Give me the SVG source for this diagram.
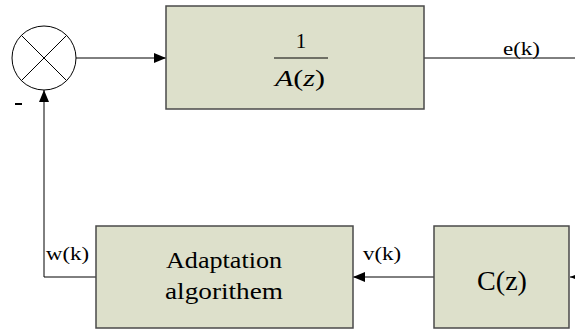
<svg xmlns="http://www.w3.org/2000/svg" width="575" height="330" viewBox="0 0 575 330">
  <defs>
    <style>
      .block { fill: #dde0cb; stroke: #4a4a4a; stroke-width: 1.5; }
      .wire { fill: none; stroke: #000; stroke-width: 1; }
      text { font-family: "Liberation Serif", "DejaVu Serif", "Times New Roman", Times, serif; fill: #000; }
    </style>
    <marker id="arrow" viewBox="0 0 12 10" refX="12" refY="5" markerWidth="12" markerHeight="10" markerUnits="userSpaceOnUse" orient="auto">
      <path d="M0,0 L12,5 L0,10 Z" fill="#000"/>
    </marker>
  </defs>
  <rect width="575" height="330" fill="#fff"/>

  <!-- connectors -->
  <g id="connectors">
    <path class="wire" d="M76,58 H166" marker-end="url(#arrow)"/>
    <path class="wire" d="M424,58 H575"/>
    <path class="wire" d="M96,277 H44 V90" marker-end="url(#arrow)"/>
    <path class="wire" d="M434,277 H353" marker-end="url(#arrow)"/>
    <path class="wire" d="M583,277 H570" marker-end="url(#arrow)"/>
    <text x="503" y="55" font-size="19" textLength="37" lengthAdjust="spacingAndGlyphs">e(k)</text>
    <text x="46" y="260" font-size="19" textLength="43" lengthAdjust="spacingAndGlyphs">w(k)</text>
    <text x="363" y="260" font-size="19" textLength="38" lengthAdjust="spacingAndGlyphs">v(k)</text>
  </g>

  <!-- summing junction -->
  <g id="sum">
    <circle cx="44" cy="58" r="32" fill="#fff" stroke="#000" stroke-width="1"/>
    <path class="wire" d="M21.4,35.4 L66.6,80.6 M66.6,35.4 L21.4,80.6"/>
    <rect x="15" y="103" width="7" height="2" fill="#000"/>
  </g>

  <!-- plant 1/A(z) -->
  <g id="plant">
    <rect class="block" x="166" y="6" width="258" height="103"/>
    <text x="301" y="48" font-size="21" text-anchor="middle">1</text>
    <line x1="274" y1="58" x2="328" y2="58" stroke="#000" stroke-width="1"/>
    <text x="275" y="86" font-size="24" textLength="50" lengthAdjust="spacingAndGlyphs"><tspan font-style="italic">A</tspan>(<tspan font-style="italic">z</tspan>)</text>
  </g>

  <!-- adaptation block -->
  <g id="adaptation">
    <rect class="block" x="96" y="226" width="257" height="102"/>
    <text x="166" y="268" font-size="24" textLength="116" lengthAdjust="spacingAndGlyphs">Adaptation</text>
    <text x="165" y="299" font-size="24" textLength="118" lengthAdjust="spacingAndGlyphs">algorithem</text>
  </g>

  <!-- filter C(z) -->
  <g id="filter">
    <rect class="block" x="434" y="226" width="135" height="102"/>
    <text x="477" y="290" font-size="28" textLength="50" lengthAdjust="spacingAndGlyphs">C(z)</text>
  </g>
</svg>
